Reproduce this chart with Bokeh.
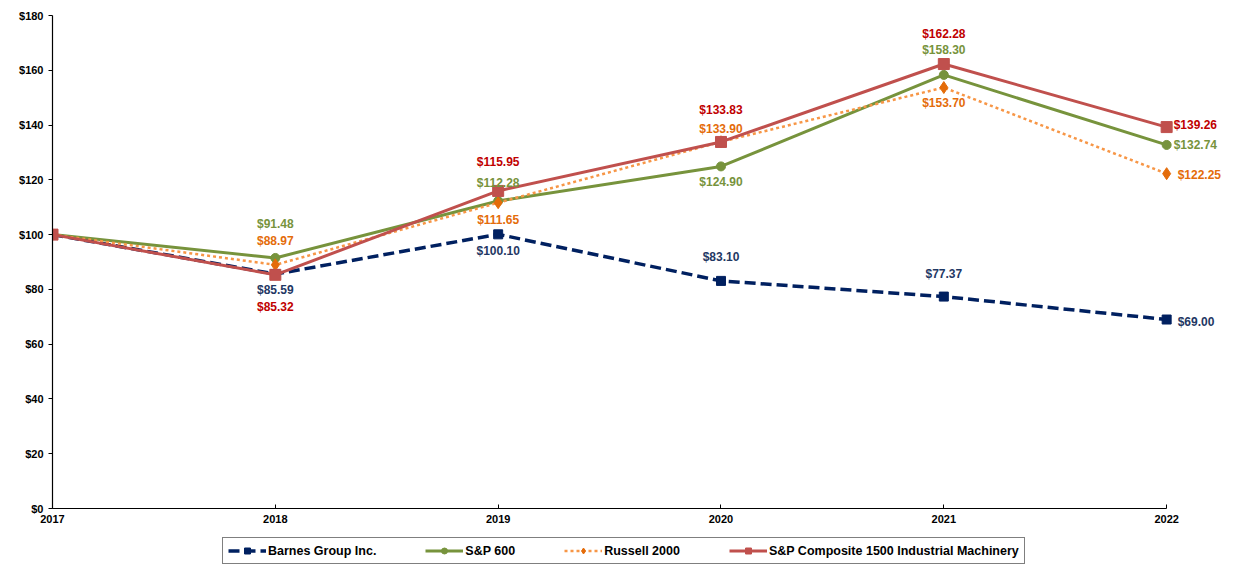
from bokeh.plotting import figure
from bokeh.layouts import column
from bokeh.models import (ColumnDataSource, Range1d, FixedTicker, PrintfTickFormatter,
                          Legend, LegendItem)
from bokeh.core.properties import value
from bokeh.embed import file_html
from bokeh.resources import INLINE

years = [2017, 2018, 2019, 2020, 2021, 2022]
series_names = ["Barnes Group Inc.", "S&P 600", "Russell 2000",
                "S&P Composite 1500 Industrial Machinery"]
barnes = [100.00, 85.59, 100.10, 83.10, 77.37, 69.00]
sp600 = [100.00, 91.48, 112.28, 124.90, 158.30, 132.74]
russell = [100.00, 88.97, 111.65, 133.90, 153.70, 122.25]
sp1500 = [100.00, 85.32, 115.95, 133.83, 162.28, 139.26]
y_ticks = [0, 20, 40, 60, 80, 100, 120, 140, 160, 180]

# styles
line_colors = ["#002060", "#77933C", "#F79646", "#C0504D"]
marker_colors = ["#002060", "#77933C", "#E46C0A", "#C0504D"]
label_colors = ["#1F3864", "#77933C", "#E46C0A", "#C00000"]
markers = ["square", "circle", "diamond", "square"]
marker_sizes = [9, 9, 12, 11]
line_widths = [3.5, 3, 2.5, 3]
line_dashes = ["11 5", "solid", "3 3", "solid"]
# label pixel offsets for years 2018..2022 (screen px, +y down)
label_dy = [
    [16, 17, -24, -23, 2],
    [-34, -18, 16, -25, 0],
    [-24, 17, -13, 15, 1],
    [32, -29, -32, -30, -2],
]
label_dx = [
    [0, 0, 0, 0, 11],
    [0, 0, 0, 0, 7],
    [0, 0, 0, 0, 11],
    [0, 0, 0, 0, 7],
]

all_series = [barnes, sp600, russell, sp1500]
font = "Liberation Sans"

chart = figure(width=1233, height=535, output_backend="svg", toolbar_location=None,
               x_range=Range1d(2017, 2022.3), y_range=Range1d(0, 180),
               min_border_left=52, min_border_right=0, min_border_top=15,
               min_border_bottom=27)
chart.outline_line_color = None
chart.xgrid.visible = False
chart.ygrid.visible = False
chart.background_fill_color = "white"
chart.border_fill_color = "white"

chart.xaxis.ticker = FixedTicker(ticks=years)
chart.xaxis.bounds = (2017, 2022)
chart.yaxis.ticker = FixedTicker(ticks=y_ticks)
chart.yaxis.formatter = PrintfTickFormatter(format="$%d")
for ax in (chart.xaxis[0], chart.yaxis[0]):
    ax.axis_line_color = "black"
    ax.axis_line_width = 1.2
    ax.major_tick_line_color = "black"
    ax.minor_tick_line_color = None
    ax.major_label_text_font = font
    ax.major_label_text_font_style = "bold"
    ax.major_label_text_font_size = "11px"
    ax.major_label_text_color = "black"
chart.xaxis.major_tick_in = 4
chart.xaxis.major_tick_out = 0
chart.xaxis.major_label_standoff = 6
chart.yaxis.major_tick_in = 0
chart.yaxis.major_tick_out = 4
chart.yaxis.major_label_standoff = 5

sources = []
for i, vals in enumerate(all_series):
    src = ColumnDataSource(dict(x=years, y=vals))
    sources.append(src)
    chart.line("x", "y", source=src, line_color=line_colors[i],
               line_width=line_widths[i], line_dash=line_dashes[i])
    chart.scatter("x", "y", source=src, marker=markers[i], size=marker_sizes[i],
                  fill_color=marker_colors[i], line_color=marker_colors[i])

for i, vals in enumerate(all_series):
    xs = years[1:]
    ys = vals[1:]
    src = ColumnDataSource(dict(
        x=xs, y=ys, text=["$%.2f" % v for v in ys],
        dx=label_dx[i], dy=label_dy[i],
        align=["center"] * 4 + ["left"],
    ))
    chart.text("x", "y", text="text", source=src, x_offset="dx", y_offset="dy",
               text_align="align", text_baseline="middle",
               text_font=value(font), text_font_style="bold", text_font_size="12px",
               text_color=label_colors[i])

# legend strip (its series glyphs fall outside this strip's ranges; only the legend shows)
leg_fig = figure(width=1233, height=36, output_backend="svg", toolbar_location=None,
                 x_range=Range1d(0, 1), y_range=Range1d(0, 1),
                 x_axis_type=None, y_axis_type=None,
                 min_border_left=0, min_border_right=0, min_border_top=0,
                 min_border_bottom=0)
leg_fig.outline_line_color = None
leg_fig.xgrid.visible = False
leg_fig.ygrid.visible = False
items = []
for i in range(len(series_names)):
    r_line = leg_fig.line("x", "y", source=sources[i], line_color=line_colors[i],
                          line_width=line_widths[i], line_dash=line_dashes[i])
    r_mark = leg_fig.scatter("x", "y", source=sources[i], marker=markers[i],
                             size=marker_sizes[i] - 1, fill_color=marker_colors[i],
                             line_color=marker_colors[i])
    items.append(LegendItem(label=series_names[i], renderers=[r_line, r_mark]))

legend = Legend(items=items, orientation="horizontal", location=(170, 7))
legend.label_text_font = font
legend.label_text_font_style = "bold"
legend.label_text_font_size = "12.5px"
legend.label_text_color = "black"
legend.glyph_width = 38
legend.glyph_height = 15
legend.label_height = 15
legend.label_standoff = 2
legend.spacing = 49
legend.padding = 5
legend.margin = 0
legend.border_line_color = "black"
legend.border_line_width = 1
legend.background_fill_alpha = 1
leg_fig.add_layout(legend, "center")

p = column(chart, leg_fig, spacing=0)

open("out.html", "w").write(file_html(p, INLINE))
